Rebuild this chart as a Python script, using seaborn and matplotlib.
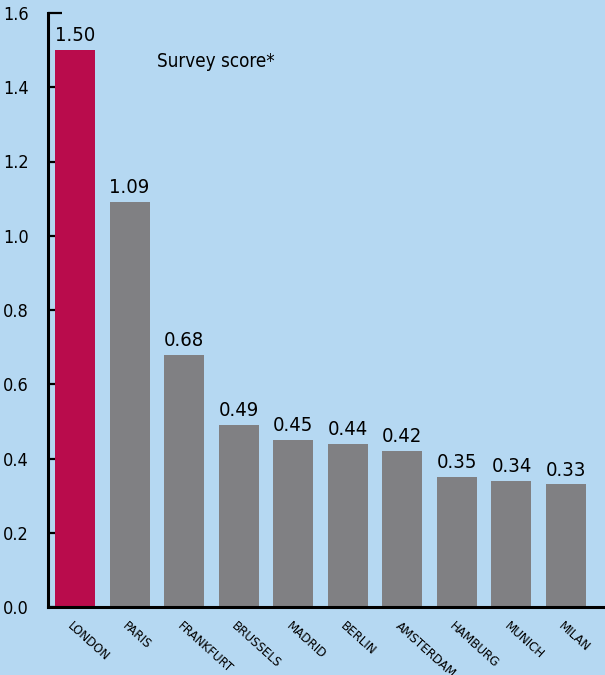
import matplotlib
matplotlib.use("Agg")
import matplotlib.pyplot as plt
import matplotlib.transforms as mtransforms
import seaborn as sns
import pandas as pd

cities = ["LONDON", "PARIS", "FRANKFURT", "BRUSSELS", "MADRID",
          "BERLIN", "AMSTERDAM", "HAMBURG", "MUNICH", "MILAN"]
scores = [1.50, 1.09, 0.68, 0.49, 0.45, 0.44, 0.42, 0.35, 0.34, 0.33]
value_labels = ["1.50", "1.09", "0.68", "0.49", "0.45",
                "0.44", "0.42", "0.35", "0.34", "0.33"]
y_ticks = [0.0, 0.2, 0.4, 0.6, 0.8, 1.0, 1.2, 1.4, 1.6]
title_text = "Survey score*"

BG = "#B5D8F2"
RED = "#B90C4C"
GREY = "#808083"

sns.set_style("white")
plt.rcParams["font.family"] = ["DejaVu Sans"]
plt.rcParams["font.stretch"] = "condensed"
plt.rcParams["text.color"] = "black"
plt.rcParams["xtick.color"] = "black"
plt.rcParams["ytick.color"] = "black"

df = pd.DataFrame({"city": cities, "score": scores})
palette = {c: (RED if i == 0 else GREY) for i, c in enumerate(cities)}

fig = plt.figure(figsize=(6.05, 6.75), dpi=100, facecolor=BG)
ax = fig.add_axes([48 / 605, 1 - 607 / 675, 1 - 48 / 605, (607 - 13) / 675])
ax.set_facecolor(BG)

sns.barplot(data=df, x="city", y="score", hue="city", palette=palette,
            order=cities, width=0.733, saturation=1, legend=False,
            linewidth=0, edgecolor="none", ax=ax)

ax.set_xlim(-0.495, 9.715)
ax.set_ylim(0, 1.6)
ax.set_yticks(y_ticks)
ax.set_yticklabels([f"{v:.1f}" for v in y_ticks], fontsize=13)
ax.set_xlabel("")
ax.set_ylabel("")

for s in ("top", "right"):
    ax.spines[s].set_visible(False)
for s in ("left", "bottom"):
    ax.spines[s].set_linewidth(2.2)
    ax.spines[s].set_color("black")

ax.tick_params(axis="y", left=True, direction="in", length=10, width=1.6,
               pad=14, colors="black")
ax.tick_params(axis="x", bottom=False, length=0, pad=9)

labels = ax.set_xticklabels(cities, rotation=-42, ha="left", va="top",
                            rotation_mode="anchor", fontsize=9.5)
shift = mtransforms.ScaledTranslation(-1 / 100, 0, fig.dpi_scale_trans)
for lab in labels:
    lab.set_transform(lab.get_transform() + shift)

for i, (v, t) in enumerate(zip(scores, value_labels)):
    ax.annotate(t, (i, v), xytext=(0, 3.5), textcoords="offset points",
                ha="center", va="bottom", fontsize=14.5, fontweight="medium")

ax.text(0.196, 0.919, title_text, transform=ax.transAxes,
        ha="left", va="center", fontsize=13.5)

fig.savefig("out.png", dpi=100, facecolor=BG)
